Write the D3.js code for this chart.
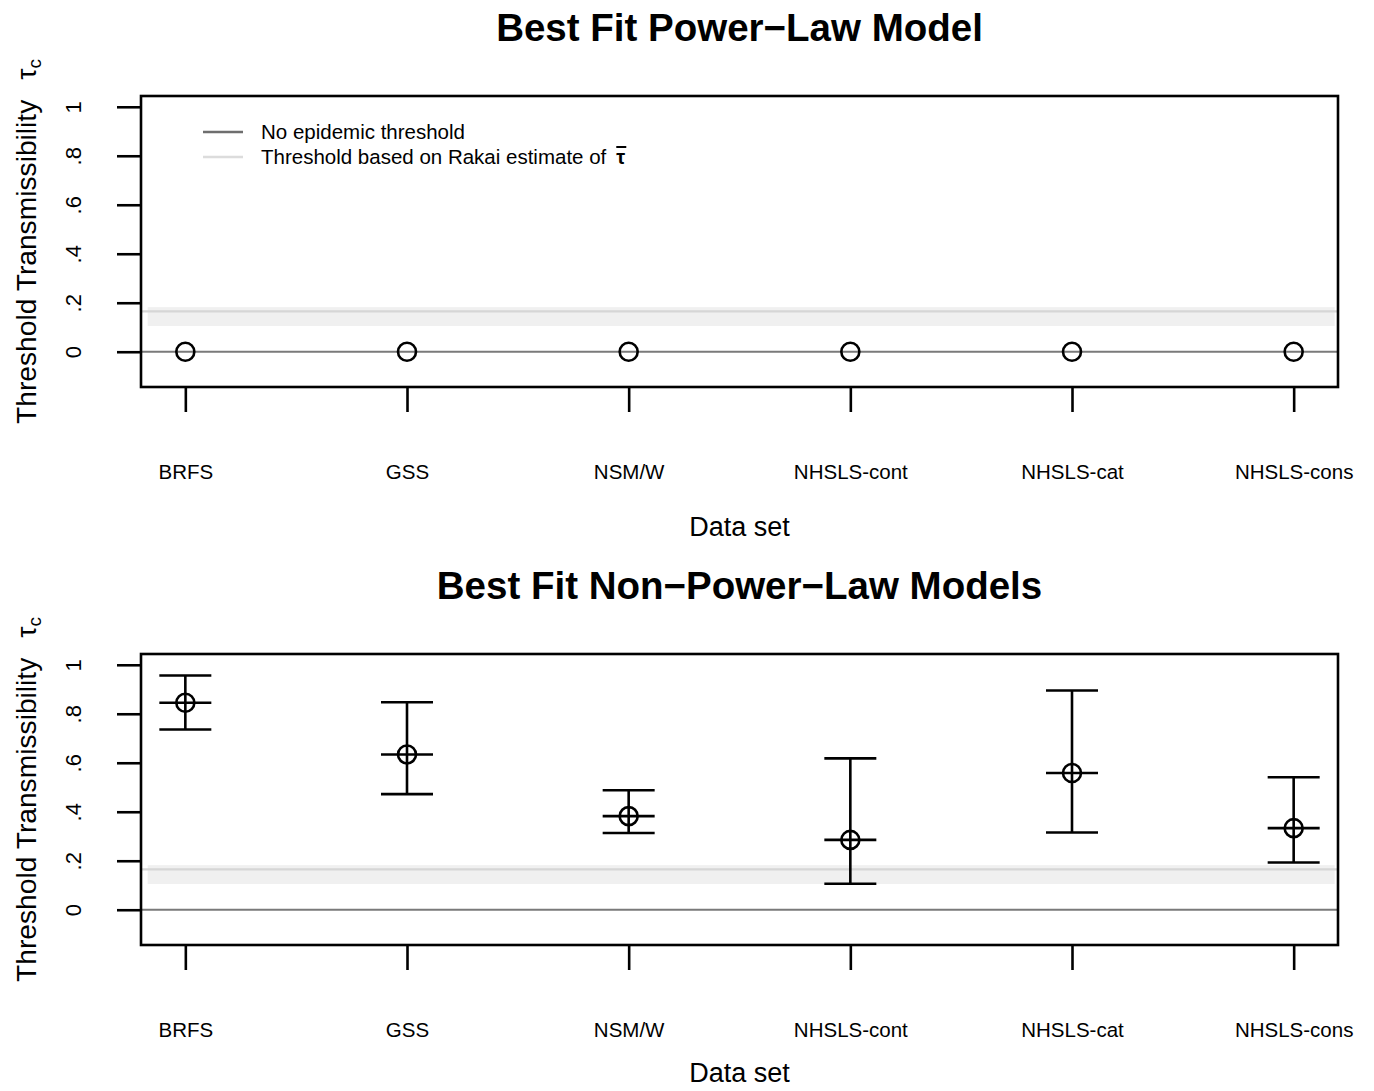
<!DOCTYPE html>
<html>
<head>
<meta charset="utf-8">
<script src="https://cdn.jsdelivr.net/npm/d3@7"></script>
<style>
  html, body { margin: 0; padding: 0; background: #fff; }
  svg { display: block; font-family: "Liberation Sans", Arial, Helvetica, sans-serif; }
</style>
</head>
<body>
<svg id="chart" width="1374" height="1091"></svg>
<script>
// ---- data ----
const categories = ["BRFS", "GSS", "NSM/W", "NHSLS-cont", "NHSLS-cat", "NHSLS-cons"];
const powerLawEstimate = [0, 0, 0, 0, 0, 0];
const nonPowerEstimate = [0.845, 0.634, 0.382, 0.285, 0.558, 0.333];
const nonPowerLower    = [0.736, 0.472, 0.313, 0.106, 0.315, 0.193];
const nonPowerUpper    = [0.956, 0.847, 0.488, 0.618, 0.895, 0.541];
const yTickValues = [0, 0.2, 0.4, 0.6, 0.8, 1];
const yTickLabels = ["0", ".2", ".4", ".6", ".8", "1"];
const rakaiThreshold = 0.165;
const rakaiBand = [0.105, 0.182];
const noThreshold = 0;
const titles = ["Best Fit Power\u2212Law Model", "Best Fit Non\u2212Power\u2212Law Models"];
const legendLabels = ["No epidemic threshold", "Threshold based on Rakai estimate of"];

// ---- layout ----
const svg = d3.select("#chart");
const box = { left: 141, right: 1338, height: 291 };
const panelTops = [96, 654];

const x = d3.scaleLinear().domain([0.8, 6.2]).range([box.left, box.right]);

function drawPanel(top, title, est, lower, upper, withLegend) {
  const g = svg.append("g");
  const y = d3.scaleLinear().domain([-0.144, 1.044]).range([top + box.height, top]);

  // title
  g.append("text")
    .attr("x", (box.left + box.right) / 2)
    .attr("y", top - 55)
    .attr("text-anchor", "middle")
    .attr("font-weight", "bold")
    .attr("font-size", 38.5)
    .attr("fill", "#000")
    .text(title);

  // Rakai band & line
  g.append("rect")
    .attr("x", x(0.83))
    .attr("width", x(6.185) - x(0.83))
    .attr("y", y(rakaiBand[1]))
    .attr("height", y(rakaiBand[0]) - y(rakaiBand[1]))
    .attr("fill", "#f0f0f0");
  g.append("line")
    .attr("x1", box.left).attr("x2", box.right)
    .attr("y1", y(rakaiThreshold)).attr("y2", y(rakaiThreshold))
    .attr("stroke", "#d6d6d6").attr("stroke-width", 2.2);

  // zero line
  g.append("line")
    .attr("x1", box.left).attr("x2", box.right)
    .attr("y1", y(noThreshold)).attr("y2", y(noThreshold))
    .attr("stroke", "#7a7a7a").attr("stroke-width", 2.2);

  // error bars
  if (lower && upper) {
    const capHalf = 26;
    const eb = g.append("g").attr("stroke", "#000").attr("stroke-width", 2.6).attr("fill", "none");
    categories.forEach((c, i) => {
      const cx = x(i + 1);
      eb.append("line").attr("x1", cx).attr("x2", cx).attr("y1", y(upper[i])).attr("y2", y(lower[i]));
      eb.append("line").attr("x1", cx - capHalf).attr("x2", cx + capHalf).attr("y1", y(upper[i])).attr("y2", y(upper[i]));
      eb.append("line").attr("x1", cx - capHalf).attr("x2", cx + capHalf).attr("y1", y(lower[i])).attr("y2", y(lower[i]));
      eb.append("line").attr("x1", cx - capHalf).attr("x2", cx + capHalf).attr("y1", y(est[i])).attr("y2", y(est[i]));
    });
  }

  // points
  g.append("g").selectAll("circle")
    .data(est)
    .join("circle")
    .attr("cx", (d, i) => x(i + 1))
    .attr("cy", d => y(d))
    .attr("r", 9)
    .attr("fill", "none")
    .attr("stroke", "#000")
    .attr("stroke-width", 2.6);

  // box
  g.append("rect")
    .attr("x", box.left).attr("y", top)
    .attr("width", box.right - box.left).attr("height", box.height)
    .attr("fill", "none").attr("stroke", "#000").attr("stroke-width", 2.6);

  // y axis
  const yAxis = g.append("g")
    .attr("transform", `translate(${box.left},0)`)
    .call(d3.axisLeft(y).tickValues(yTickValues).tickSize(24).tickFormat((d, i) => yTickLabels[i]));
  yAxis.select(".domain").remove();
  yAxis.selectAll(".tick line").attr("stroke", "#000").attr("stroke-width", 2.6);
  yAxis.selectAll(".tick text")
    .attr("x", null).attr("dy", null)
    .attr("font-size", 22)
    .attr("fill", "#000")
    .attr("text-anchor", "middle")
    .attr("transform", "translate(-60,0) rotate(-90)")
    .attr("y", 0);

  // x axis
  const xAxis = g.append("g")
    .attr("transform", `translate(0,${top + box.height})`)
    .call(d3.axisBottom(x).tickValues(d3.range(1, categories.length + 1)).tickSize(25).tickFormat((d, i) => categories[i]));
  xAxis.select(".domain").remove();
  xAxis.selectAll(".tick line").attr("stroke", "#000").attr("stroke-width", 2.6);
  xAxis.selectAll(".tick text")
    .attr("y", 92).attr("dy", null)
    .attr("font-size", 20.5)
    .attr("fill", "#000");

  // x label
  g.append("text")
    .attr("x", (box.left + box.right) / 2)
    .attr("y", top + box.height + (top === panelTops[0] ? 149 : 137))
    .attr("text-anchor", "middle")
    .attr("font-size", 27)
    .attr("fill", "#000")
    .text("Data set");

  // y label
  const yl = g.append("text")
    .attr("transform", `translate(36,${top + box.height / 2}) rotate(-90)`)
    .attr("text-anchor", "middle")
    .attr("font-size", 28.2)
    .attr("fill", "#000");
  yl.append("tspan").text("Threshold Transmissibility");
  yl.append("tspan").attr("dx", 20).text("\u03c4");
  yl.append("tspan").attr("font-size", 19).attr("dy", 5).text("c");

  // legend
  if (withLegend) {
    const lg = g.append("g");
    const rows = [
      { label: legendLabels[0], color: "#6e6e6e", y: top + 36 },
      { label: legendLabels[1], color: "#dcdcdc", y: top + 61 }
    ];
    rows.forEach((r, i) => {
      lg.append("line").attr("x1", 203).attr("x2", 243).attr("y1", r.y).attr("y2", r.y)
        .attr("stroke", r.color).attr("stroke-width", 2.4);
      const t = lg.append("text").attr("x", 261).attr("y", r.y + 7)
        .attr("font-size", 20.5).attr("fill", "#000").text(r.label);
      if (i === 1) {
        const w = t.node().getComputedTextLength();
        const tx = 261 + w + 10;
        lg.append("text").attr("x", tx).attr("y", r.y + 7)
          .attr("font-size", 20).attr("font-weight", "bold").attr("fill", "#000").text("\u03c4");
        lg.append("line").attr("x1", tx).attr("x2", tx + 10)
          .attr("y1", r.y - 10).attr("y2", r.y - 10)
          .attr("stroke", "#000").attr("stroke-width", 2);
      }
    });
  }
}

drawPanel(panelTops[0], titles[0], powerLawEstimate, null, null, true);
drawPanel(panelTops[1], titles[1], nonPowerEstimate, nonPowerLower, nonPowerUpper, false);
</script>
</body>
</html>
